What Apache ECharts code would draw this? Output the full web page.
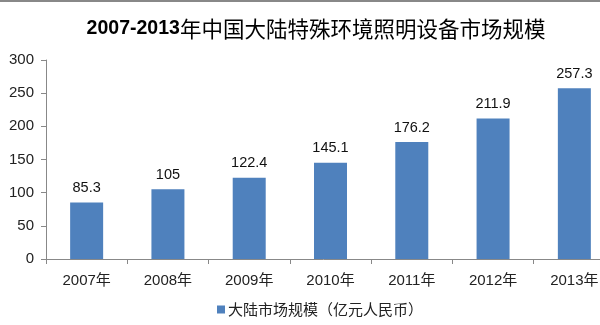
<!DOCTYPE html>
<html><head><meta charset="utf-8">
<script src="https://cdn.jsdelivr.net/npm/echarts@6/dist/echarts.min.js"></script>
<style>html,body{margin:0;padding:0;background:#fff}#c{width:600px;height:325px}</style>
</head><body><div id="c"></div>
<script>
var categories = ['2007年','2008年','2009年','2010年','2011年','2012年','2013年'];
var values = [85.3, 105, 122.4, 145.1, 176.2, 211.9, 257.3];
var seriesName = '大陆市场规模（亿元人民币）';
var titleYears = '2007-2013';
var titleRest = '年中国大陆特殊环境照明设备市场规模';

var chart = echarts.init(document.getElementById('c'), null, {renderer:'canvas'});
chart.setOption({
  animation:false,
  backgroundColor:'#fff',
  graphic:[{type:'rect', left:0, top:0, shape:{width:600,height:2}, style:{fill:'#888'}}],
  title:{
    text:'{a|'+titleYears+'}{b|'+titleRest+'}',
    left:311, top:13, textAlign:'center',
    textStyle:{rich:{
      a:{fontFamily:'"Liberation Sans","Noto Sans",sans-serif', fontWeight:'bold', fontSize:19.5, color:'#000'},
      b:{fontFamily:'"Noto Sans CJK SC",sans-serif', fontWeight:'normal', fontSize:21.5, color:'#000'}
    }}
  },
  legend:{
    bottom:3, left:212, itemWidth:8, itemHeight:8, itemGap:4,
    icon:'rect',
    textStyle:{fontFamily:'"Noto Sans CJK SC",sans-serif', fontSize:15, color:'#222', padding:[0,0,0,-2]},
    data:[seriesName]
  },
  grid:{left:46, width:569, top:60, bottom:66, containLabel:false, outerBoundsMode:'none'},
  xAxis:{
    type:'category', data:categories,
    axisLine:{lineStyle:{color:'#888'}},
    axisTick:{show:true, length:5, lineStyle:{color:'#888'}},
    axisLabel:{margin:14, color:'#222', fontSize:15, fontFamily:'"Liberation Sans","Noto Sans CJK SC",sans-serif'}
  },
  yAxis:{
    type:'value', min:0, max:300, interval:50,
    splitLine:{show:false},
    axisLine:{show:true, lineStyle:{color:'#888'}},
    axisTick:{show:true, length:5, lineStyle:{color:'#888'}},
    axisLabel:{margin:12, color:'#222', fontSize:15, fontFamily:'"Liberation Sans",sans-serif'}
  },
  series:[{
    name:seriesName, type:'bar', data:values, barWidth:33,
    itemStyle:{color:'#4F81BD'},
    label:{show:true, position:'top', distance:7, color:'#111', fontSize:14.5, fontFamily:'"Liberation Sans",sans-serif'}
  }]
});
</script></body></html>
